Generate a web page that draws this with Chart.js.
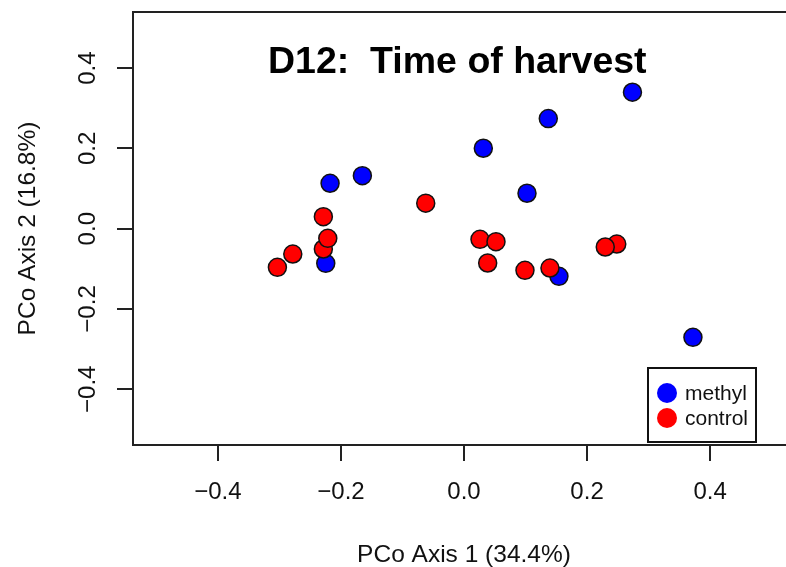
<!DOCTYPE html>
<html><head><meta charset="utf-8">
<script src="https://cdn.jsdelivr.net/npm/chart.js@4/dist/chart.umd.min.js"></script>
<style>html,body{margin:0;padding:0;background:#fff;overflow:hidden}#wrap{width:786px;height:567px;overflow:hidden}</style>
</head><body><div id="wrap"><canvas id="c" width="795" height="567"></canvas></div>
<script>
const chartTitle = 'D12:  Time of harvest';
const xAxisTitle = 'PCo Axis 1 (34.4%)';
const yAxisTitle = 'PCo Axis 2 (16.8%)';
const seriesNames = ['methyl', 'control'];
const seriesColors = ['#0000ff', '#ff0000'];
const methylX = [-0.2177, -0.1652, -0.2247, 0.2738, 0.1370, 0.0314, 0.1024, 0.1543, 0.3721];
const methylY = [0.1132, 0.1322, -0.0863, 0.3401, 0.2743, 0.2005, 0.0883, -0.1187, -0.2708];
const controlX = [-0.0622, -0.2286, -0.2286, -0.2214, -0.2783, -0.3033, 0.0260, 0.0520, 0.0385, 0.0991, 0.1397, 0.2483, 0.2296];
const controlY = [0.0636, 0.0299, -0.0506, -0.0239, -0.0631, -0.0963, -0.0264, -0.0324, -0.0855, -0.1037, -0.0980, -0.0382, -0.0456];
const xTicks = [-0.4, -0.2, 0.0, 0.2, 0.4];
const yTicks = [-0.4, -0.2, 0.0, 0.2, 0.4];

const FONT = '"Liberation Sans", Arial, Helvetica, sans-serif';
Chart.defaults.font.family = FONT;
Chart.defaults.color = '#111';

const toPts = (xs, ys) => xs.map((x, i) => ({x: x, y: ys[i]}));
const fmt = v => (v < 0 ? '\u2212' : '') + Math.abs(v).toFixed(1);
const noPad = s => { s.paddingTop = 0; s.paddingBottom = 0; s.paddingLeft = 0; s.paddingRight = 0; };

const framePlugin = {
  id: 'frame',
  afterDraw(chart) {
    const ctx = chart.ctx, ca = chart.chartArea;
    ctx.save();
    ctx.strokeStyle = '#222';
    ctx.lineWidth = 2;
    ctx.beginPath();
    ctx.moveTo(ca.left - 1, ca.top);
    ctx.lineTo(ca.right, ca.top);
    ctx.stroke();
    ctx.fillStyle = '#000';
    ctx.font = 'bold 37.5px ' + FONT;
    ctx.textAlign = 'left';
    ctx.textBaseline = 'alphabetic';
    ctx.fillText(chartTitle, ca.left + 135, ca.top + 61);
    const bx = ca.right - 147, by = ca.bottom - 77, bw = 108, bh = 74;
    ctx.fillStyle = '#fff';
    ctx.fillRect(bx, by, bw, bh);
    ctx.strokeStyle = '#111';
    ctx.lineWidth = 2;
    ctx.strokeRect(bx, by, bw, bh);
    ctx.font = '21px ' + FONT;
    ctx.textBaseline = 'middle';
    seriesNames.forEach((n, i) => {
      const cy = by + 25 + i * 25;
      ctx.fillStyle = seriesColors[i];
      ctx.beginPath();
      ctx.arc(bx + 19, cy, 10, 0, Math.PI * 2);
      ctx.fill();
      ctx.fillStyle = '#111';
      ctx.fillText(n, bx + 37, cy + 1);
    });
    ctx.restore();
  }
};

new Chart(document.getElementById('c'), {
  type: 'scatter',
  data: {
    datasets: [
      {label: seriesNames[0], data: toPts(methylX, methylY), backgroundColor: seriesColors[0], borderColor: '#111', borderWidth: 1.5, pointRadius: 9, order: 2},
      {label: seriesNames[1], data: toPts(controlX, controlY), backgroundColor: seriesColors[1], borderColor: '#111', borderWidth: 1.5, pointRadius: 9, order: 1}
    ]
  },
  options: {
    responsive: false,
    animation: false,
    events: [],
    layout: {autoPadding: false, padding: {left: 0, top: 12, right: 0, bottom: 0}},
    plugins: {legend: {display: false}, tooltip: {enabled: false}, title: {display: false}},
    scales: {
      x: {
        type: 'linear', position: 'bottom', min: -0.538, max: 0.538,
        afterBuildTicks: s => { s.ticks = xTicks.map(v => ({value: v})); },
        afterFit: s => { s.height = 122; noPad(s); },
        grid: {drawOnChartArea: false, drawTicks: true, tickLength: 16, lineWidth: 2, tickColor: '#222'},
        border: {display: true, color: '#222', width: 2},
        ticks: {font: {size: 24}, color: '#111', padding: 17, maxRotation: 0, minRotation: 0, autoSkip: false, callback: v => fmt(v)},
        title: {display: true, text: xAxisTitle, font: {size: 24.5}, color: '#111', padding: {top: 0, bottom: -3}}
      },
      y: {
        type: 'linear', position: 'left', min: -0.539, max: 0.540,
        afterBuildTicks: s => { s.ticks = yTicks.map(v => ({value: v})); },
        afterFit: s => { s.width = 133; noPad(s); },
        grid: {drawOnChartArea: false, drawTicks: true, tickLength: 16, lineWidth: 2, tickColor: '#222'},
        border: {display: true, color: '#222', width: 2},
        ticks: {font: {size: 24}, color: '#111', padding: 5, minRotation: 90, maxRotation: 90, crossAlign: 'center', autoSkip: false, callback: v => fmt(v)},
        title: {display: true, text: yAxisTitle, font: {size: 24.5}, color: '#111', padding: {top: 14, bottom: 0}}
      }
    }
  },
  plugins: [framePlugin]
});
</script>
</body></html>
